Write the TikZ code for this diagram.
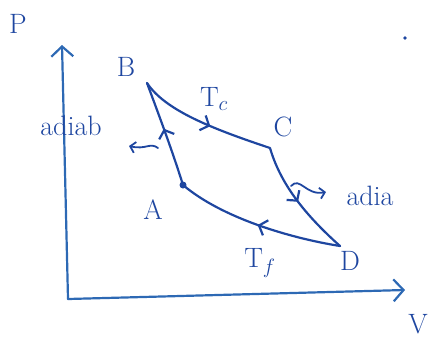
\documentclass[tikz,border=0pt]{standalone}
\usetikzlibrary{arrows.meta,decorations.markings}
\definecolor{ink}{RGB}{30,70,160}
\definecolor{axisink}{RGB}{45,105,180}

\begin{document}
\begin{tikzpicture}[x=1pt,y=-1pt,line width=2.2pt,color=ink,line cap=round,line join=round,
  midarrow/.style={postaction={decorate},decoration={markings,
    mark=at position #1 with {\arrow{Straight Barb[length=7pt,width=16pt]}}}},
  lbl/.style={font=\fontsize{28}{32}\selectfont},
  small/.style={font=\fontsize{28}{32}\selectfont}]
  \useasboundingbox (0,0) rectangle (430,338);
  % axes
  \coordinate (origin) at (68,299);
  \coordinate (ytop) at (62,45);
  \coordinate (xend) at (405,290);
  \draw[axisink,-{Straight Barb[length=10pt,width=22pt]}] (origin) -- (ytop);
  \draw[axisink,-{Straight Barb[length=10pt,width=22pt]}] (origin) -- (xend);
  \node[lbl] (lblP) at (18,24) {P};
  \node[lbl] (lblV) at (418,324) {V};
  % states
  \coordinate (ptA) at (183,185);
  \coordinate (ptB) at (147,83);
  \coordinate (ptC) at (270,148);
  \coordinate (ptD) at (340,246);
  \fill (ptA) circle (3.5pt);
  \node[lbl] (lblA) at (153,210) {A};
  \node[lbl] (lblB) at (126,67) {B};
  \node[lbl] (lblC) at (283,127) {C};
  \node[lbl] (lblD) at (350,261) {D};
  % cycle
  \draw[midarrow=0.55] (ptB) .. controls (165,110) and (210,128) .. (ptC);
  \draw[midarrow=0.5] (ptC) .. controls (280,182) and (302,212) .. (ptD);
  \draw[midarrow=0.5] (ptD) .. controls (290,238) and (222,218) .. (ptA);
  \draw[midarrow=0.55] (ptA) .. controls (172,150) and (160,118) .. (ptB);
  \node[lbl] (lblTc) at (214,99) {T$_c$};
  \node[lbl] (lblTf) at (260,263) {T$_f$};
  % adiabats
  \coordinate (tagL) at (158,148);
  \coordinate (tagR) at (291,186);
  \draw[line width=1.8pt,-{Straight Barb[length=5pt,width=11pt]}] (tagL) .. controls (150,142) and (146,150) .. (129,146);
  \draw[line width=1.8pt,-{Straight Barb[length=5pt,width=11pt]}] (tagR) .. controls (300,176) and (306,196) .. (326,192);
  \node[small] (lblL) at (71,126) {adiab};
  \node[small] (lblR) at (370,196) {adia};
  \fill (405,38) circle (1.8pt);
\end{tikzpicture}
\end{document}
